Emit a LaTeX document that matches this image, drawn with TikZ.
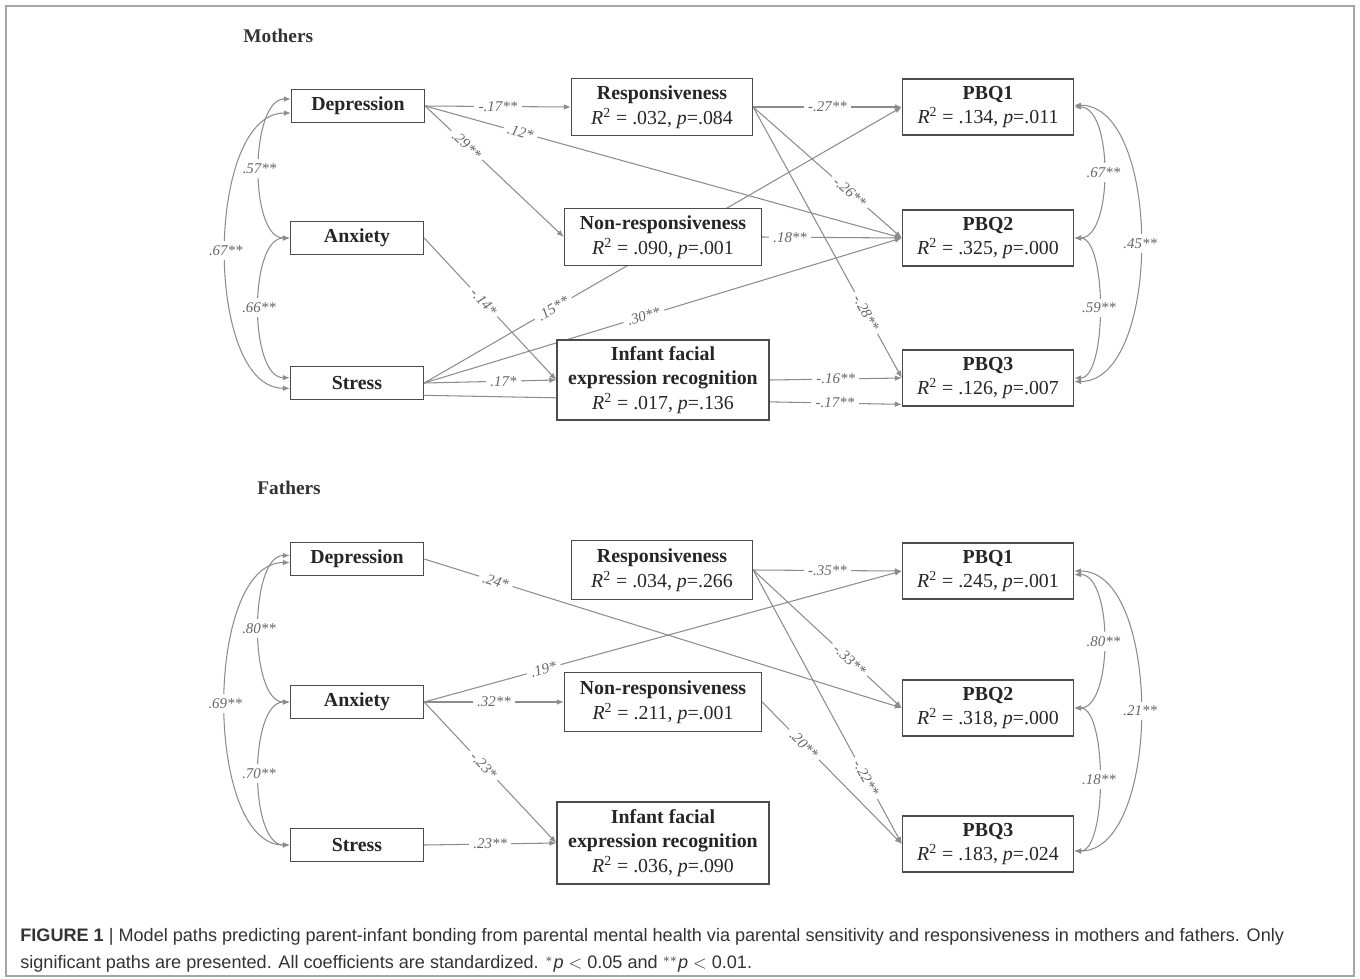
\documentclass[tikz,border=0pt]{standalone}
\usepackage{fontspec}
\setmainfont{Liberation Serif}
\newfontfamily\capfont{Liberation Sans}
\usetikzlibrary{arrows.meta}

\pgfdeclarelayer{bg}
\pgfsetlayers{bg,main}

% fit statistics under a box title
\newcommand{\rsq}[2]{\textnormal{\textit{R}\textsuperscript{2} = #1, \textit{p}=#2}}

\begin{document}
\begin{tikzpicture}[x=0.02cm, y=-0.02cm,
    var/.style={rectangle, draw=black!70, line width=0.8pt, fill=white, align=center,
        inner sep=1pt, font=\bfseries\fontsize{11.3}{14}\selectfont, text=black!85},
    pred/.style={var, minimum width=2.66cm, minimum height=0.66cm},
    med/.style={var, minimum height=1.13cm},
    pbq/.style={var, minimum width=3.42cm, minimum height=1.12cm},
    link/.style={-{Latex[length=4pt,width=3.2pt]}, draw=black!45, line width=0.6pt},
    corr/.style={{Latex[length=4pt,width=3.2pt]}-{Latex[length=4pt,width=3.2pt]}, draw=black!45, line width=0.6pt},
    coef/.style={font=\fontsize{8.5}{9}\selectfont\itshape, text=black!60, fill=white, inner sep=2.5pt},
    group/.style={font=\bfseries\fontsize{11}{12}\selectfont, text=black!80, anchor=west, inner sep=0pt}
]
    \useasboundingbox (0,0) rectangle (1360,978);
    \draw[black!35, line width=0.6pt] (6,6) rectangle (1354,976);

    % ---------------- Mothers ----------------
    \node[group] (mtitle) at (243,36) {Mothers};

    % predictors
    \node[pred] (mdep) at (358,106) {Depression};
    \node[pred] (manx) at (357,238) {Anxiety};
    \node[pred] (mstr) at (357,383) {Stress};

    % mediators
    \node[med, minimum width=3.62cm] (mresp) at (662,107) {Responsiveness\\ \rsq{.032}{.084}};
    \node[med, minimum width=3.94cm] (mnon) at (663,237) {Non-responsiveness\\ \rsq{.090}{.001}};
    \node[med, minimum width=4.24cm, minimum height=1.6cm] (minf) at (663,380)
        {Infant facial\\ expression recognition\\ \rsq{.017}{.136}};

    % outcomes
    \node[pbq] (mq1) at (988,107) {PBQ1\\ \rsq{.134}{.011}};
    \node[pbq] (mq2) at (988,238) {PBQ2\\ \rsq{.325}{.000}};
    \node[pbq] (mq3) at (988,378) {PBQ3\\ \rsq{.126}{.007}};

    \begin{pgfonlayer}{bg}
    % paths
    \draw[link] (mdep.east) -- node[coef] {-.17**} (mresp.west);
    \draw[link] (mdep.east) -- node[coef, sloped, pos=0.2] {.12*} (mq2.west);
    \draw[link] (mdep.east) -- node[coef, sloped, pos=0.3] {.29**} (mnon.west);
    \draw[link] (manx.east) -- node[coef, sloped, pos=0.45] {-.14*} (minf.west);
    \draw[link] (mstr.east) -- node[coef, sloped, pos=0.27] {.15**} (mq1.west);
    \draw[link] (mstr.east) -- node[coef, sloped, pos=0.46] {.30**} (mq2.west);
    \draw[link] (mstr.east) -- node[coef, pos=0.6] {.17*} (minf.west);
    \draw[link] ([yshift=-7pt]mstr.east) -- node[coef, pos=0.86] {-.17**} ([yshift=-15pt]mq3.west);
    \draw[link] (minf.east) -- node[coef] {-.16**} (mq3.west);
    \draw[link] (mresp.east) -- node[coef] {-.27**} (mq1.west);
    \draw[link] (mresp.east) -- node[coef, sloped, pos=0.65] {-.26**} (mq2.west);
    \draw[link] (mresp.east) -- node[coef, sloped, pos=0.76] {-.28**} (mq3.west);
    \draw[link] (mnon.east) -- node[coef, pos=0.2] {.18**} (mq2.west);

    % covariances
    \draw[corr] ([yshift=4pt]mdep.west) .. controls +(-41,0) and +(-41,0) .. node[coef] {.57**} (manx.west);
    \draw[corr] (manx.west) .. controls +(-41,0) and +(-41,0) .. node[coef] {.66**} ([yshift=3pt]mstr.west);
    \draw[corr] ([yshift=-4pt]mdep.west) .. controls +(-86,0) and +(-86,0) .. node[coef] {.67**} ([yshift=-3pt]mstr.west);
    \draw[corr] (mq1.east) .. controls +(39,0) and +(39,0) .. node[coef] {.67**} (mq2.east);
    \draw[corr] (mq2.east) .. controls +(33,0) and +(33,0) .. node[coef] {.59**} (mq3.east);
    \draw[corr] ([yshift=1pt]mq1.east) .. controls +(88,0) and +(88,0) .. node[coef] {.45**} ([yshift=-2pt]mq3.east);
    \end{pgfonlayer}

    % ---------------- Fathers ----------------
    \node[group] (ftitle) at (257,488) {Fathers};

    % predictors
    \node[pred] (fdep) at (357,559) {Depression};
    \node[pred] (fanx) at (357,702) {Anxiety};
    \node[pred] (fstr) at (357,845) {Stress};

    % mediators
    \node[med, minimum width=3.62cm, minimum height=1.18cm] (fresp) at (662,570) {Responsiveness\\ \rsq{.034}{.266}};
    \node[med, minimum width=3.94cm, minimum height=1.18cm] (fnon) at (663,702) {Non-responsiveness\\ \rsq{.211}{.001}};
    \node[med, minimum width=4.24cm, minimum height=1.64cm] (finf) at (663,843)
        {Infant facial\\ expression recognition\\ \rsq{.036}{.090}};

    % outcomes
    \node[pbq] (fq1) at (988,571) {PBQ1\\ \rsq{.245}{.001}};
    \node[pbq] (fq2) at (988,708) {PBQ2\\ \rsq{.318}{.000}};
    \node[pbq] (fq3) at (988,844) {PBQ3\\ \rsq{.183}{.024}};

    \begin{pgfonlayer}{bg}
    % paths
    \draw[link] (fdep.east) -- node[coef, sloped, pos=0.15] {.24*} (fq2.west);
    \draw[link] (fanx.east) -- node[coef, sloped, pos=0.25] {.19*} (fq1.west);
    \draw[link] (fanx.east) -- node[coef, pos=0.5] {.32**} (fnon.west);
    \draw[link] (fanx.east) -- node[coef, sloped, pos=0.45] {-.23*} (finf.west);
    \draw[link] (fstr.east) -- node[coef, pos=0.5] {.23**} (finf.west);
    \draw[link] (fresp.east) -- node[coef] {-.35**} (fq1.west);
    \draw[link] (fresp.east) -- node[coef, sloped, pos=0.65] {-.33**} (fq2.west);
    \draw[link] (fresp.east) -- node[coef, sloped, pos=0.76] {-.22**} (fq3.west);
    \draw[link] (fnon.east) -- node[coef, sloped, pos=0.3] {.20**} (fq3.west);

    % covariances
    \draw[corr] ([yshift=2pt]fdep.west) .. controls +(-41,0) and +(-41,0) .. node[coef] {.80**} (fanx.west);
    \draw[corr] (fanx.west) .. controls +(-41,0) and +(-41,0) .. node[coef] {.70**} (fstr.west);
    \draw[corr] ([yshift=-2pt]fdep.west) .. controls +(-86,0) and +(-86,0) .. node[coef] {.69**} (fstr.west);
    \draw[corr] ([yshift=-2pt]fq1.east) .. controls +(39,0) and +(39,0) .. node[coef] {.80**} (fq2.east);
    \draw[corr] (fq2.east) .. controls +(33,0) and +(33,0) .. node[coef] {.18**} ([yshift=-4pt]fq3.east);
    \draw[corr] (fq1.east) .. controls +(88,0) and +(88,0) .. node[coef] {.21**} ([yshift=-4pt]fq3.east);
    \end{pgfonlayer}

    % caption
    \node[anchor=north west, inner sep=0pt, align=left, text=black!80,
        font=\capfont\fontsize{10.3}{15.4}\selectfont] (caption) at (20,928)
        {\textbf{FIGURE 1} \textbar{} Model paths predicting parent-infant bonding from parental mental health via parental sensitivity and responsiveness in mothers and fathers. Only\\
         significant paths are presented. All coefficients are standardized. $^{*}$\textit{p} $<$ 0.05 and $^{**}$\textit{p} $<$ 0.01.};
\end{tikzpicture}
\end{document}
